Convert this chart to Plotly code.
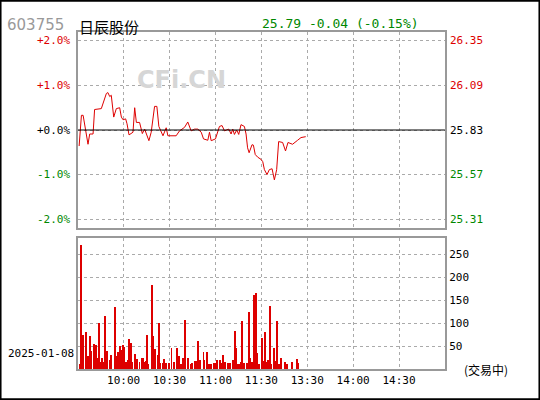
import plotly.graph_objects as go

# intraday price, minutes since 9:30 (lunch break collapsed) and % change
price_min = [0.9, 2.4, 3.5, 6.7, 7.8, 10, 11, 15.4, 18.7, 19.7, 20.9, 21.9, 23.5, 25.2, 27.4, 28.5,
             29.6, 31.3, 32.2, 33.5, 36.1, 37.2, 38.3, 40.4, 42.2, 43.7, 46.5, 48, 50.2, 51.7, 53,
             55.7, 57.8, 58.9, 64.3, 66.5, 69.8, 71.9, 74.1, 76.3, 78.5, 80.7, 82.2, 85, 86.1, 87.2,
             90, 92.6, 94.3, 95.9, 98.7, 100.2, 101.3, 102.4, 103.9, 105.2, 106.7, 108.9, 110, 111,
             112, 113.9, 114.8, 116, 117.6, 119.8, 120.9, 122, 123.7, 125.2, 127, 128.5, 130, 131.3,
             133.9, 135.8, 137.4, 140.4, 143.7, 145.9, 149]
price_pct = [-0.36, 0.33, 0.33, -0.32, -0.09, -0.09, 0.46, 0.48, 0.82, 0.84, 0.75, 0.78, 0.29, 0.48,
             0.5, 0.29, 0.23, 0.25, 0.14, -0.11, -0.05, 0.5, 0.17, 0.17, -0.08, 0.02, -0.24, -0.05,
             0.53, 0.53, 0.08, -0.13, 0.05, -0.13, -0.13, -0.02, 0.06, 0.18, -0.02, 0.02, 0.02, -0.05,
             -0.2, -0.23, -0.05, -0.24, -0.2, 0.08, 0.1, -0.02, 0.02, -0.09, 0.02, -0.1, 0, -0.1, 0.12,
             0.08, -0.09, -0.4, -0.51, -0.33, -0.34, -0.55, -0.61, -0.66, -0.71, -0.89, -1.0, -0.89,
             -0.87, -1.12, -0.89, -0.26, -0.28, -0.47, -0.28, -0.32, -0.23, -0.17, -0.15]

vol_min = [1.3, 1.7, 3, 5, 5.7, 6.7, 8, 8.7, 10.2, 10.7, 12, 12.4, 13.7, 14.3, 15.7, 16.7, 17.6, 18.7,
           19.3, 20.9, 21.5, 23.9, 24.6, 25.7, 26.3, 27.6, 28.3, 29.6, 30.2, 31.3, 32.6, 33.3, 34.6,
           35.2, 37, 38.3, 40.2, 41.5, 42.2, 43.5, 44.1, 45.2, 45.9, 48.3, 49.1, 50.2, 52.2, 52.8,
           53.9, 55.2, 56.1, 57.8, 59.3, 61.1, 62.4, 63, 64.6, 65.9, 66.5, 67.8, 68.5, 70, 71.7, 73.7,
           74.8, 76.7, 78, 78.7, 80, 82, 82.6, 84.3, 85.4, 86.7, 88.9, 89.6, 90.9, 92.6, 93.9, 94.6,
           95.9, 97.8, 99.6, 101.5, 102.8, 103.5, 104.6, 105.2, 106.3, 107, 108.5, 110.2, 111.5,
           112.2, 113.5, 115.2, 116.5, 117.2, 118.5, 120.2, 120.9, 122.2, 122.8, 124.1, 125.2, 126.3,
           128, 129.1, 129.8, 131.1, 132.6, 135, 136.7, 140, 143, 143.7]
vol = [10, 270, 75, 80, 15, 28, 72, 40, 17, 55, 53, 25, 100, 15, 25, 15, 115, 40, 25, 20, 30, 135,
       20, 28, 38, 50, 42, 53, 47, 15, 20, 65, 57, 15, 32, 22, 15, 25, 25, 15, 18, 75, 10, 183, 72,
       44, 30, 100, 12, 12, 22, 12, 12, 45, 10, 15, 45, 28, 10, 10, 25, 107, 25, 10, 12, 18, 17, 60,
       20, 37, 20, 37, 10, 10, 12, 12, 20, 20, 12, 30, 15, 12, 12, 20, 82, 45, 10, 10, 15, 105, 14,
       12, 123, 25, 15, 160, 166, 35, 10, 68, 18, 80, 15, 20, 138, 10, 45, 18, 105, 10, 23, 15, 10,
       15, 22, 12]

time_ticks = [30, 60, 90, 120, 150, 180, 210]
time_labels = ["10:00", "10:30", "11:00", "11:30", "13:30", "14:00", "14:30"]
pct_ticks = [2, 1, 0, -1, -2]
pct_labels = ["+2.0%", "+1.0%", "+0.0%", "-1.0%", "-2.0%"]
price_labels = ["26.35", "26.09", "25.83", "25.57", "25.31"]
vol_ticks = [50, 100, 150, 200, 250]

RED, GREEN = "#dd0000", "#008800"
mono = "DejaVu Sans Mono"

fig = go.Figure()
fig.add_trace(go.Scatter(x=price_min, y=price_pct, mode="lines",
                         line=dict(color=RED, width=1), xaxis="x", yaxis="y"))
fig.add_trace(go.Bar(x=vol_min, y=vol, marker=dict(color=RED, line_width=0), width=0.6,
                     xaxis="x2", yaxis="y2"))

grid = dict(showgrid=True, gridcolor="#aaaaaa", griddash="dot", gridwidth=1,
            showline=True, linecolor="#999999", linewidth=2, mirror=True, zeroline=False)
fig.update_layout(
    width=540, height=400, margin=dict(l=0, r=0, t=0, b=0),
    paper_bgcolor="white", plot_bgcolor="white", showlegend=False,
    xaxis=dict(domain=[0.144, 0.824], range=[0, 240], anchor="y", tickvals=time_ticks,
               showticklabels=False, **grid),
    yaxis=dict(domain=[0.43, 0.92], range=[-2.2, 2.2], anchor="x", tickvals=pct_ticks,
               showticklabels=False, **grid),
    xaxis2=dict(domain=[0.144, 0.824], range=[0, 240], anchor="y2", tickvals=time_ticks,
                ticktext=time_labels, ticks="", tickfont=dict(family=mono, size=11, color="black"),
                **grid),
    yaxis2=dict(domain=[0.0775, 0.405], range=[0, 285], anchor="x2", side="right",
                tickvals=vol_ticks, ticks="", tickfont=dict(family=mono, size=11, color="black"),
                **grid),
    bargap=0,
)
fig.add_shape(type="line", xref="x", yref="y", x0=0, x1=240, y0=0, y1=0,
              line=dict(color="black", width=1))
fig.add_shape(type="rect", xref="paper", yref="paper", x0=0.001, x1=0.999, y0=0.002, y1=0.998,
              line=dict(color="black", width=2))

for v, pl, rl in zip(pct_ticks, pct_labels, price_labels):
    c = RED if v > 0 else (GREEN if v < 0 else "black")
    fig.add_annotation(x=0.134, xref="paper", y=v, yref="y", text=pl, showarrow=False,
                       xanchor="right", font=dict(family=mono, size=11, color=c))
    fig.add_annotation(x=0.83, xref="paper", y=v, yref="y", text=rl, showarrow=False,
                       xanchor="left", font=dict(family=mono, size=11, color=c))

fig.add_annotation(x=0.01, y=0.965, xref="paper", yref="paper", text="603755", showarrow=False,
                   xanchor="left", font=dict(family="DejaVu Sans", size=15, color="#999999"))
fig.add_annotation(x=0.143, y=0.965, xref="paper", yref="paper", text="日辰股份", showarrow=False,
                   xanchor="left", font=dict(family="Noto Sans CJK SC", size=15, color="black"))
fig.add_annotation(x=0.63, y=0.965, xref="paper", yref="paper", text="25.79 -0.04 (-0.15%)",
                   showarrow=False, font=dict(family=mono, size=13, color=GREEN))
fig.add_annotation(x=0.25, y=0.84, xref="paper", yref="paper", text="<b>CFi.CN</b>",
                   showarrow=False, font=dict(family="DejaVu Sans", size=24, color="#d6d6d6"))
fig.add_annotation(x=0.012, y=0.095, xref="paper", yref="paper", text="2025-01-08",
                   showarrow=False, xanchor="left", font=dict(family=mono, size=11, color="black"))
fig.add_annotation(x=0.855, y=0.05, xref="paper", yref="paper", text="(交易中)",
                   showarrow=False, xanchor="left",
                   font=dict(family="Noto Sans CJK SC", size=12, color="black"))

fig.write_html("out.html", config={"displayModeBar": False},
               post_script="document.body.style.margin='0';")
